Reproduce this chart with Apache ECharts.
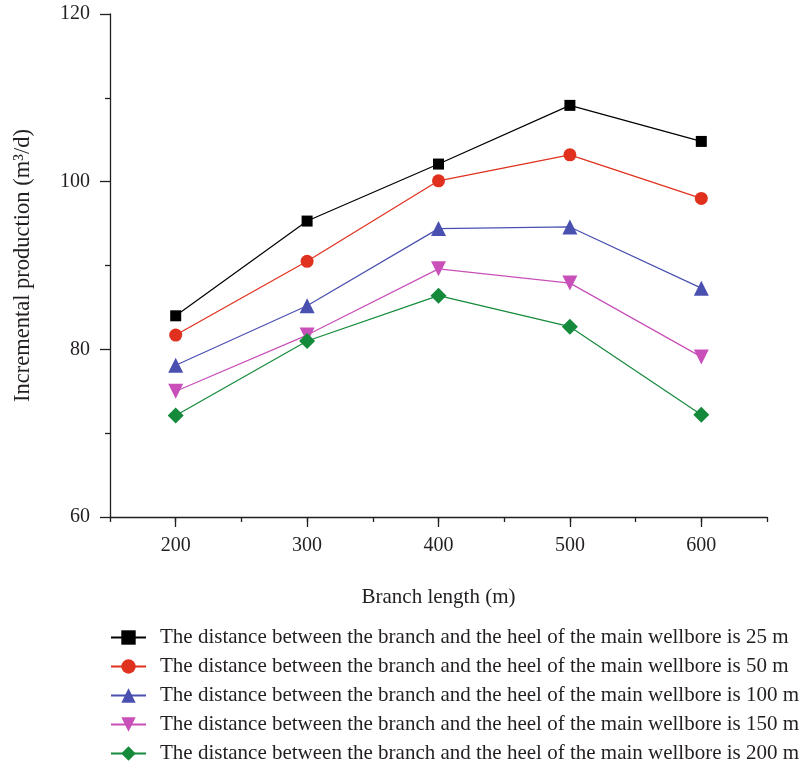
<!DOCTYPE html>
<html>
<head>
<meta charset="utf-8">
<script src="https://cdn.jsdelivr.net/npm/echarts@6/dist/echarts.min.js"></script>
<style>
html,body{margin:0;padding:0;background:#fff;}
#chart{width:808px;height:765px;}
</style>
</head>
<body>
<div id="chart"></div>
<script>
"use strict";

const branchLength = [200, 300, 400, 500, 600];
const names = [
	"The distance between the branch and the heel of the main wellbore is 25 m",
	"The distance between the branch and the heel of the main wellbore is 50 m",
	"The distance between the branch and the heel of the main wellbore is 100 m",
	"The distance between the branch and the heel of the main wellbore is 150 m",
	"The distance between the branch and the heel of the main wellbore is 200 m"
];
const d25 = [84.0, 95.3, 102.1, 109.1, 104.8];
const d50 = [81.7, 90.5, 100.1, 103.2, 98.0];
const d100 = [78.1, 85.2, 94.4, 94.6, 87.3];
const d150 = [75.0, 81.7, 89.6, 87.9, 79.1];
const d200 = [72.1, 81.0, 86.4, 82.7, 72.2];
const majorX = [200, 300, 400, 500, 600];

const font = "'Liberation Serif', 'DejaVu Serif', serif";
const ink = "#231f20";

const styles = [
	{c: "#000000", s: "rect", z: 11},
	{c: "#e0301e", s: "circle", z: 13},
	{c: "#4a50b0", s: "triangle", z: 15},
	{c: "#c850b8", s: "path://M0,0 L10,0 L5,9 Z", z: 15},
	{c: "#158a3a", s: "diamond", z: 16}
];
const values = [d25, d50, d100, d150, d200];

const myChart = echarts.init(document.getElementById("chart"));

myChart.setOption({
	animation: false,
	backgroundColor: "#fff",
	textStyle: {fontFamily: font, color: ink},
	grid: {left: 110, right: 41, top: 14, bottom: 248},
	legend: {
		orient: "vertical",
		left: 110, top: 627, padding: 0,
		itemWidth: 35, itemHeight: 18, itemGap: 8,
		data: names,
		textStyle: {fontFamily: font, fontSize: 21, color: ink, lineHeight: 21, padding: [0, 0, 0, 9]}
	},
	xAxis: [
		{
			type: "value", min: 150, max: 650, interval: 50,
			name: "Branch length (m)", nameLocation: "middle", nameGap: 70,
			nameTextStyle: {fontFamily: font, fontSize: 21, color: ink},
			axisLine: {show: true, onZero: false, lineStyle: {color: ink, width: 1.3}},
			axisTick: {show: true, inside: false, length: 5, lineStyle: {color: ink, width: 1.3}},
			axisLabel: {
				margin: 19, fontFamily: font, fontSize: 20, color: ink,
				formatter: v => (majorX.indexOf(v) >= 0 ? String(v) : "")
			},
			splitLine: {show: false}
		},
		{
			type: "value", min: 150, max: 650, position: "bottom",
			axisLine: {show: false}, splitLine: {show: false}, axisLabel: {show: false},
			axisTick: {show: true, customValues: majorX, length: 10, lineStyle: {color: ink, width: 1.3}}
		}
	],
	yAxis: {
		type: "value", min: 60, max: 120, interval: 20,
		name: "Incremental production (m³/d)", nameLocation: "middle", nameGap: 75,
		nameTextStyle: {fontFamily: font, fontSize: 22.5, color: ink},
		axisLine: {show: true, onZero: false, lineStyle: {color: ink, width: 1.3}},
		axisTick: {show: true, length: 10, lineStyle: {color: ink, width: 1.3}},
		minorTick: {show: true, splitNumber: 2, length: 5, lineStyle: {color: ink, width: 1.3}},
		axisLabel: {margin: 20, fontFamily: font, fontSize: 20, color: ink},
		splitLine: {show: false}
	},
	series: values.map((v, i) => ({
		name: names[i],
		type: "line",
		xAxisIndex: 0,
		data: branchLength.map((x, j) => [x, v[j]]),
		symbol: styles[i].s,
		symbolSize: styles[i].z,
		itemStyle: {color: styles[i].c},
		lineStyle: {color: styles[i].c, width: 1.2}
	}))
});
</script>
</body>
</html>
